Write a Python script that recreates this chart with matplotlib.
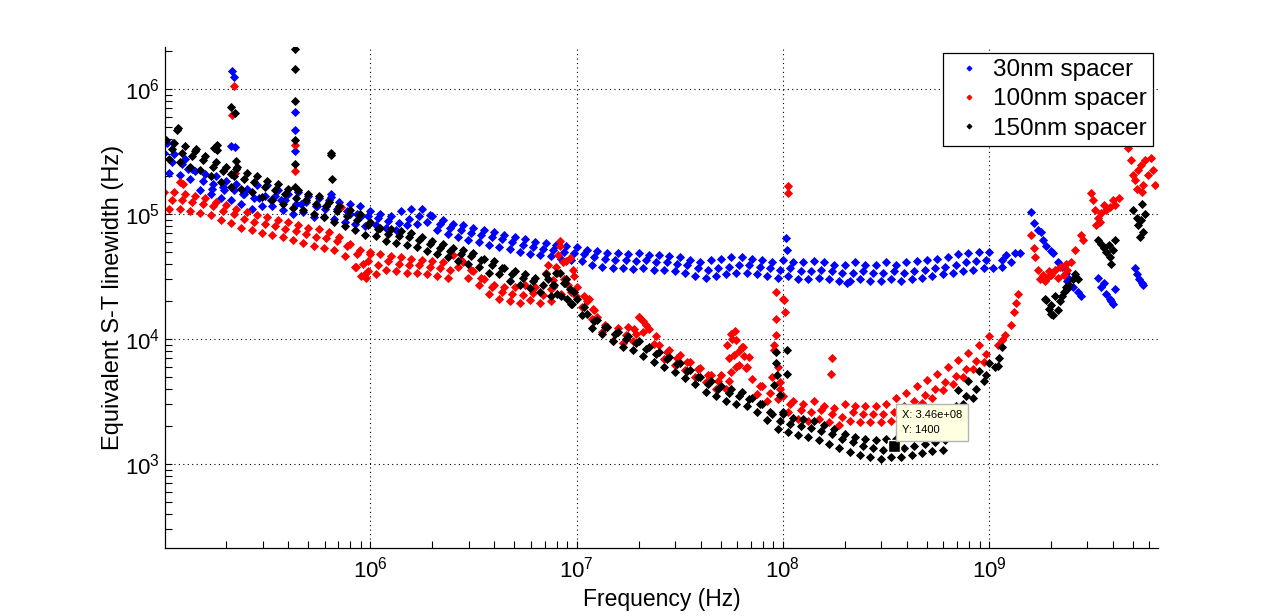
import numpy as np
import matplotlib
matplotlib.use("Agg")
import matplotlib.pyplot as plt
from matplotlib.ticker import LogLocator, FuncFormatter, NullFormatter

plt.rcParams['font.family'] = ['Liberation Sans', 'DejaVu Sans']
plt.rcParams['mathtext.default'] = 'regular'

# frequency sampling (Hz) for the upper / lower / middle of each band
freq_a = [1.00e5, 1.12e5, 1.26e5, 1.41e5, 1.58e5, 1.78e5, 2.00e5, 2.24e5, 2.51e5, 2.82e5,
          3.16e5, 3.55e5, 3.98e5, 4.47e5, 5.01e5, 5.62e5, 6.31e5, 7.08e5, 7.94e5, 8.91e5,
          1.00e6, 1.12e6, 1.26e6, 1.41e6, 1.58e6, 1.78e6, 2.00e6, 2.24e6, 2.51e6, 2.82e6,
          3.16e6, 3.55e6, 3.98e6, 4.47e6, 5.01e6, 5.62e6, 6.31e6, 7.08e6, 7.94e6, 8.91e6,
          1.00e7, 1.12e7, 1.26e7, 1.41e7, 1.58e7, 1.78e7, 2.00e7, 2.24e7, 2.51e7, 2.82e7,
          3.16e7, 3.55e7, 3.98e7, 4.47e7, 5.01e7, 5.62e7, 6.31e7, 7.08e7, 7.94e7, 8.91e7,
          1.00e8, 1.12e8, 1.26e8, 1.41e8, 1.58e8, 1.78e8, 2.00e8, 2.24e8, 2.51e8, 2.82e8,
          3.16e8, 3.55e8, 3.98e8, 4.47e8, 5.01e8, 5.62e8, 6.31e8, 7.08e8, 7.94e8, 8.91e8,
          1.00e9]
freq_b = [1.06e5, 1.19e5, 1.33e5, 1.50e5, 1.68e5, 1.88e5, 2.11e5, 2.37e5, 2.66e5, 2.99e5,
          3.35e5, 3.76e5, 4.22e5, 4.73e5, 5.31e5, 5.96e5, 6.68e5, 7.50e5, 8.41e5, 9.44e5,
          1.06e6, 1.19e6, 1.33e6, 1.50e6, 1.68e6, 1.88e6, 2.11e6, 2.37e6, 2.66e6, 2.99e6,
          3.35e6, 3.76e6, 4.22e6, 4.73e6, 5.31e6, 5.96e6, 6.68e6, 7.50e6, 8.41e6, 9.44e6,
          1.06e7, 1.19e7, 1.33e7, 1.50e7, 1.68e7, 1.88e7, 2.11e7, 2.37e7, 2.66e7, 2.99e7,
          3.35e7, 3.76e7, 4.22e7, 4.73e7, 5.31e7, 5.96e7, 6.68e7, 7.50e7, 8.41e7, 9.44e7,
          1.06e8, 1.19e8, 1.33e8, 1.50e8, 1.68e8, 1.88e8, 2.11e8, 2.37e8, 2.66e8, 2.99e8,
          3.35e8, 3.76e8, 4.22e8, 4.73e8, 5.31e8, 5.96e8, 6.68e8, 7.50e8, 8.41e8, 9.44e8]
freq_c = [1.09e5, 1.22e5, 1.37e5, 1.54e5, 1.73e5, 1.94e5, 2.18e5, 2.44e5, 2.74e5, 3.07e5,
          3.45e5, 3.87e5, 4.34e5, 4.87e5, 5.47e5, 6.13e5, 6.88e5, 7.72e5, 8.66e5, 9.72e5,
          1.09e6, 1.22e6, 1.37e6, 1.54e6, 1.73e6, 1.94e6, 2.18e6, 2.44e6, 2.74e6, 3.07e6,
          3.45e6, 3.87e6, 4.34e6, 4.87e6, 5.47e6, 6.13e6, 6.88e6, 7.72e6, 8.66e6, 9.72e6,
          1.09e7, 1.22e7, 1.37e7, 1.54e7, 1.73e7, 1.94e7, 2.18e7, 2.44e7, 2.74e7, 3.07e7,
          3.45e7, 3.87e7, 4.34e7, 4.87e7, 5.47e7, 6.13e7, 6.88e7, 7.72e7, 8.66e7, 9.72e7,
          1.09e8, 1.22e8, 1.37e8, 1.54e8, 1.73e8, 1.94e8, 2.18e8, 2.44e8, 2.74e8, 3.07e8,
          3.45e8, 3.87e8, 4.34e8, 4.87e8, 5.47e8, 6.13e8, 6.88e8, 7.72e8, 8.66e8, 9.72e8]

# ---- 30nm spacer (blue) ----
lw30_hi = [3.1e5, 3.0e5, 2.75e5, 2.2e5, 2.1e5, 2.0e5, 1.85e5, 1.75e5, 1.6e5, 1.7e5,
           1.7e5, 1.55e5, 1.45e5, 1.5e5, 1.4e5, 1.35e5, 1.3e5, 1.25e5, 1.2e5, 1.15e5,
           1.06e5, 1.0e5, 9.7e4, 1.05e5, 1.09e5, 1.1e5, 9.6e4, 8.9e4, 8.4e4, 8.1e4,
           7.8e4, 7.4e4, 7.2e4, 6.8e4, 6.5e4, 6.3e4, 6.0e4, 5.9e4, 5.7e4, 5.6e4,
           5.5e4, 5.2e4, 5.1e4, 4.9e4, 4.9e4, 4.8e4, 4.9e4, 4.7e4, 4.7e4, 4.6e4,
           4.5e4, 4.3e4, 4.1e4, 4.3e4, 4.4e4, 4.5e4, 4.5e4, 4.4e4, 4.3e4, 4.1e4,
           4.3e4, 4.1e4, 4.1e4, 4.2e4, 4.1e4, 3.9e4, 3.9e4, 4.1e4, 3.9e4, 3.9e4,
           4.1e4, 3.9e4, 4.1e4, 4.2e4, 4.3e4, 4.4e4, 4.5e4, 4.8e4, 4.9e4, 5.0e4,
           5.0e4]
lw30_lo = [2.15e5, 2.05e5, 1.9e5, 1.55e5, 1.45e5, 1.35e5, 1.3e5, 1.2e5, 1.1e5, 1.15e5,
           1.15e5, 1.08e5, 1.0e5, 1.03e5, 9.5e4, 9.5e4, 9.1e4, 8.7e4, 8.3e4, 8.0e4,
           8.2e4, 7.7e4, 7.5e4, 8.1e4, 8.4e4, 8.6e4, 7.4e4, 6.9e4, 6.5e4, 6.2e4,
           6.0e4, 5.7e4, 5.5e4, 5.3e4, 5.0e4, 4.8e4, 4.7e4, 4.6e4, 4.4e4, 4.3e4,
           4.2e4, 3.9e4, 3.8e4, 3.7e4, 3.7e4, 3.65e4, 3.7e4, 3.6e4, 3.6e4, 3.5e4,
           3.4e4, 3.2e4, 3.1e4, 3.2e4, 3.3e4, 3.4e4, 3.4e4, 3.3e4, 3.2e4, 3.1e4,
           3.2e4, 3.0e4, 3.0e4, 3.1e4, 3.0e4, 2.9e4, 2.9e4, 3.0e4, 2.9e4, 2.9e4,
           3.0e4, 2.9e4, 3.0e4, 3.1e4, 3.2e4, 3.3e4, 3.4e4, 3.5e4, 3.6e4, 3.7e4]
lw30_mid = [2.6e5, 2.5e5, 2.3e5, 1.85e5, 1.75e5, 1.65e5, 1.55e5, 1.45e5, 1.35e5, 1.4e5,
            1.4e5, 1.3e5, 1.2e5, 1.25e5, 1.15e5, 1.15e5, 1.1e5, 1.05e5, 1.0e5, 9.7e4,
            9.3e4, 8.8e4, 8.5e4, 9.2e4, 9.6e4, 9.8e4, 8.4e4, 7.8e4, 7.4e4, 7.1e4,
            6.8e4, 6.5e4, 6.3e4, 6.0e4, 5.7e4, 5.5e4, 5.3e4, 5.2e4, 5.0e4, 4.9e4,
            4.8e4, 4.5e4, 4.4e4, 4.3e4, 4.3e4, 4.2e4, 4.3e4, 4.1e4, 4.1e4, 4.0e4,
            3.9e4, 3.7e4, 3.6e4, 3.7e4, 3.8e4, 3.9e4, 3.9e4, 3.8e4, 3.7e4, 3.6e4,
            3.7e4, 3.5e4, 3.5e4, 3.6e4, 3.5e4, 3.4e4, 3.4e4, 3.5e4, 3.4e4, 3.4e4,
            3.5e4, 3.4e4, 3.5e4, 3.6e4, 3.7e4, 3.8e4, 3.9e4, 4.1e4, 4.2e4, 4.3e4]
f30_extra = [1.03e5, 1.11e5, 1.30e5, 1.70e5, 1.95e5, 2.40e5, 2.90e5, 3.30e5, 3.70e5, 4.60e5,
             5.50e5, 6.00e5, 8.00e5, 9.00e5,
             2.14e5, 2.19e5, 2.12e5, 2.20e5, 4.33e5, 4.33e5, 4.33e5, 6.47e5, 6.47e5,
             1.04e8, 1.05e8, 2.05e8,
             1.04e9, 1.15e9, 1.21e9, 1.28e9, 1.34e9, 1.42e9, 1.15e9, 1.60e9, 1.66e9, 1.72e9,
             1.79e9, 1.82e9, 1.90e9, 2.00e9, 2.04e9, 2.16e9, 2.25e9, 2.35e9, 2.45e9, 2.55e9,
             2.70e9, 2.78e9, 2.40e9, 3.38e9, 3.50e9, 3.60e9, 3.70e9, 3.85e9, 4.00e9, 4.08e9,
             3.90e9, 5.10e9, 5.20e9, 5.35e9, 5.50e9, 5.60e9]
lw30_extra = [3.7e5, 3.7e5, 2.3e5, 1.6e5, 1.55e5, 1.45e5, 1.35e5, 1.3e5, 1.3e5, 1.2e5,
              1.15e5, 1.1e5, 1.0e5, 9.6e4,
              1.39e6, 1.25e6, 3.5e5, 3.45e5, 6.5e5, 4.7e5, 3.2e5, 1.45e5, 1.37e5,
              6.4e4, 5.15e4, 2.8e4,
              3.7e4, 3.76e4, 4.7e4, 4.1e4, 4.9e4, 4.9e4, 4.3e4, 1.04e5, 8.5e4, 7.4e4,
              7.2e4, 6.2e4, 5.6e4, 5.1e4, 4.9e4, 4.1e4, 3.8e4, 3.4e4, 3.0e4, 2.6e4,
              2.4e4, 2.2e4, 2.9e4, 3.1e4, 2.6e4, 2.8e4, 2.3e4, 2.1e4, 1.9e4, 2.5e4,
              2.0e4, 3.7e4, 3.3e4, 3.0e4, 2.8e4, 2.7e4]

# ---- 100nm spacer (red) ----
lw100_hi = [1.5e5, 1.5e5, 1.45e5, 1.4e5, 1.35e5, 1.25e5, 1.18e5, 1.1e5, 1.03e5, 9.8e4,
            9.5e4, 9.0e4, 8.6e4, 8.2e4, 7.8e4, 7.6e4, 7.2e4, 6.6e4, 5.8e4, 5.2e4,
            4.8e4, 4.8e4, 4.6e4, 4.5e4, 4.4e4, 4.3e4, 4.2e4, 4.1e4, 4.7e4, 4.1e4,
            3.5e4, 3.0e4, 2.7e4, 2.6e4, 2.6e4, 2.7e4, 2.6e4, 3.4e4, 3.8e4, 4.2e4,
            2.6e4, 2.0e4, 1.5e4, 1.25e4, 1.22e4, 1.25e4, 1.5e4, 1.2e4, 9.0e3, 8.1e3,
            7.4e3, 6.6e3, 5.9e3, 5.2e3, 5.2e3, 1.1e4, 8.6e3, 4.8e3, 4.2e3, 5.0e3,
            3.5e3, 3.2e3, 3.0e3, 3.2e3, 2.9e3, 2.8e3, 3.0e3, 2.9e3, 2.9e3, 2.9e3,
            3.0e3, 3.4e3, 3.7e3, 4.2e3, 4.7e3, 5.3e3, 6.0e3, 6.8e3, 7.8e3, 8.9e3,
            1.05e4]
lw100_lo = [1.1e5, 1.1e5, 1.06e5, 1.02e5, 9.8e4, 8.9e4, 8.5e4, 7.8e4, 7.4e4, 7.0e4,
            6.8e4, 6.5e4, 6.2e4, 5.9e4, 5.6e4, 5.4e4, 5.2e4, 4.6e4, 3.8e4, 3.3e4,
            3.3e4, 3.6e4, 3.5e4, 3.4e4, 3.4e4, 3.3e4, 3.2e4, 3.1e4, 3.8e4, 3.1e4,
            2.7e4, 2.3e4, 2.1e4, 2.0e4, 1.95e4, 2.05e4, 1.95e4, 2.0e4, 2.3e4, 2.4e4,
            1.8e4, 1.45e4, 1.13e4, 9.6e3, 9.3e3, 9.6e3, 1.13e4, 9.1e3, 6.9e3, 6.2e3,
            5.7e3, 5.0e3, 4.5e3, 4.0e3, 4.0e3, 6.0e3, 6.0e3, 3.65e3, 3.2e3, 3.3e3,
            2.6e3, 2.3e3, 2.2e3, 2.3e3, 2.15e3, 2.05e3, 2.2e3, 2.15e3, 2.15e3, 2.15e3,
            2.2e3, 2.5e3, 2.75e3, 3.1e3, 3.4e3, 3.9e3, 4.4e3, 5.0e3, 5.8e3, 6.5e3]
lw100_mid = [1.3e5, 1.3e5, 1.25e5, 1.2e5, 1.15e5, 1.05e5, 1.0e5, 9.2e4, 8.7e4, 8.3e4,
             8.0e4, 7.6e4, 7.3e4, 6.9e4, 6.6e4, 6.4e4, 6.1e4, 5.6e4, 4.8e4, 4.2e4,
             3.9e4, 4.2e4, 4.0e4, 3.9e4, 3.9e4, 3.8e4, 3.7e4, 3.6e4, 4.3e4, 3.6e4,
             3.1e4, 2.6e4, 2.4e4, 2.3e4, 2.25e4, 2.35e4, 2.25e4, 2.6e4, 3.0e4, 3.2e4,
             2.2e4, 1.7e4, 1.3e4, 1.1e4, 1.07e4, 1.1e4, 1.3e4, 1.05e4, 7.9e3, 7.1e3,
             6.5e3, 5.8e3, 5.2e3, 4.6e3, 4.6e3, 8.0e3, 7.2e3, 4.2e3, 3.7e3, 4.0e3,
             3.0e3, 2.7e3, 2.6e3, 2.7e3, 2.5e3, 2.4e3, 2.6e3, 2.5e3, 2.5e3, 2.5e3,
             2.6e3, 2.9e3, 3.2e3, 3.6e3, 4.0e3, 4.5e3, 5.1e3, 5.8e3, 6.7e3, 7.6e3]
f100_extra = [1.19e5, 1.23e5, 2.20e5,
              2.19e5, 2.14e5, 4.33e5, 4.33e5, 7.20e5,
              8.5e5, 9.0e5, 9.2e5, 9.5e5, 9.7e5, 1.0e6,
              8.34e6, 8.34e6, 8.1e6, 8.6e6, 9.3e6, 9.6e6, 7.7e6, 7.3e6, 8.9e6, 9.1e6,
              7.5e6, 9.9e6, 8.0e6,
              2.0e7, 2.1e7, 1.9e7, 1.2e7, 1.15e7,
              5.38e7, 5.7e7, 5.86e7, 5.9e7, 5.8e7, 6.1e7, 6.4e7, 6.5e7, 6.6e7, 5.5e7, 5.6e7,
              9.3e7, 9.3e7, 9.3e7, 1.0e8, 1.01e8, 1.03e8, 1.06e8, 1.06e8, 9.1e7, 9.1e7,
              9.5e7, 9.7e7, 1.74e8, 1.72e8,
              1.11e9, 1.16e9, 1.20e9, 1.28e9, 1.32e9, 1.35e9, 1.38e9, 1.60e9, 1.65e9, 1.68e9,
              1.72e9, 1.82e9, 1.91e9, 2.00e9, 2.16e9, 2.30e9, 2.40e9, 2.50e9, 2.60e9, 2.80e9,
              2.85e9, 1.76e9, 1.86e9, 1.95e9, 2.10e9, 2.20e9, 2.35e9,
              3.13e9, 3.20e9, 3.28e9, 3.50e9, 3.60e9, 3.70e9, 3.85e9, 3.98e9, 4.10e9, 4.25e9,
              3.38e9, 3.30e9, 3.45e9,
              4.72e9, 4.90e9, 5.00e9, 5.10e9, 5.30e9, 5.45e9, 5.60e9, 5.70e9, 5.90e9, 6.10e9,
              6.25e9, 6.40e9, 5.20e9, 5.50e9]
lw100_extra = [1.8e5, 1.75e5, 2.13e5,
               1.06e6, 6.2e5, 3.56e5, 2.2e5, 1.14e5,
               3.8e4, 3.2e4, 4.0e4, 3.1e4, 3.5e4, 5.0e4,
               6.1e4, 5.6e4, 4.7e4, 4.1e4, 4.45e4, 3.56e4, 2.96e4, 3.9e4, 3.0e4, 2.7e4,
               2.5e4, 2.2e4, 3.4e4,
               1.5e4, 1.4e4, 1.2e4, 1.75e4, 2.1e4,
               8.9e3, 1.0e4, 1.15e4, 9.8e3, 7.4e3, 6.2e3, 8.6e3, 7.3e3, 5.9e3, 7.0e3, 5.5e3,
               2.4e4, 1.45e4, 1.07e4, 2.1e4, 2.05e4, 1.65e4, 1.68e5, 1.47e5, 8.9e3, 8.2e3,
               6.0e3, 4.5e3, 7.1e3, 5.3e3,
               8.9e3, 9.8e3, 1.08e4, 1.29e4, 1.65e4, 1.95e4, 2.3e4, 6.8e4, 5.4e4, 4.5e4,
               3.56e4, 3.25e4, 3.1e4, 3.25e4, 3.1e4, 3.25e4, 3.56e4, 4.1e4, 5.15e4, 6.8e4,
               6.2e4, 3.0e4, 2.9e4, 3.5e4, 3.6e4, 3.8e4, 4.0e4,
               1.47e5, 1.29e5, 1.08e5, 1.02e5, 1.18e5, 1.08e5, 1.13e5, 1.29e5, 1.18e5, 1.34e5,
               9.3e4, 8.2e4, 8.6e4,
               3.4e5, 2.7e5, 2.05e5, 1.87e5, 2.25e5, 2.47e5, 1.71e5, 2.7e5, 2.05e5, 2.8e5,
               2.25e5, 1.71e5, 1.6e5, 1.5e5]

# ---- 150nm spacer (black) ----
lw150_hi = [3.9e5, 3.7e5, 3.5e5, 3.2e5, 2.9e5, 2.6e5, 2.4e5, 2.3e5, 2.15e5, 2.0e5,
            1.85e5, 1.75e5, 1.6e5, 1.55e5, 1.45e5, 1.4e5, 1.25e5, 1.15e5, 1.08e5, 1.0e5,
            8.6e4, 7.8e4, 7.6e4, 7.3e4, 7.0e4, 6.6e4, 6.1e4, 5.8e4, 5.4e4, 5.2e4,
            4.9e4, 4.4e4, 4.2e4, 3.7e4, 3.5e4, 3.3e4, 3.1e4, 3.3e4, 3.4e4, 3.0e4,
            2.1e4, 1.6e4, 1.42e4, 1.25e4, 1.14e4, 1.06e4, 9.6e3, 8.7e3, 7.9e3, 7.2e3,
            6.4e3, 5.7e3, 5.0e3, 4.6e3, 4.2e3, 4.0e3, 3.8e3, 3.4e3, 3.0e3, 2.5e3,
            2.5e3, 2.35e3, 2.3e3, 2.2e3, 2.05e3, 1.9e3, 1.75e3, 1.65e3, 1.6e3, 1.55e3,
            1.6e3, 1.6e3, 1.65e3, 1.7e3, 1.75e3, 1.8e3, 1.9e3, 3.9e3, 4.6e3, 5.6e3,
            6.4e3]
lw150_lo = [2.75e5, 2.6e5, 2.4e5, 2.25e5, 2.0e5, 1.8e5, 1.65e5, 1.6e5, 1.5e5, 1.37e5,
            1.3e5, 1.2e5, 1.12e5, 1.08e5, 1.0e5, 9.5e4, 8.7e4, 8.0e4, 7.5e4, 6.8e4,
            6.7e4, 6.1e4, 5.9e4, 5.7e4, 5.5e4, 5.1e4, 4.8e4, 4.5e4, 4.2e4, 4.0e4,
            3.8e4, 3.4e4, 3.3e4, 2.9e4, 2.7e4, 2.55e4, 2.4e4, 2.2e4, 2.2e4, 1.9e4,
            1.55e4, 1.22e4, 1.09e4, 9.6e3, 8.7e3, 8.1e3, 7.3e3, 6.6e3, 6.0e3, 5.5e3,
            4.9e3, 4.35e3, 3.8e3, 3.5e3, 3.2e3, 3.05e3, 2.9e3, 2.6e3, 2.25e3, 1.9e3,
            1.8e3, 1.7e3, 1.65e3, 1.55e3, 1.45e3, 1.35e3, 1.25e3, 1.18e3, 1.13e3, 1.1e3,
            1.13e3, 1.13e3, 1.18e3, 1.22e3, 1.27e3, 1.3e3, 2.5e3, 3.0e3, 3.4e3, 4.6e3]
lw150_mid = [3.3e5, 3.1e5, 2.9e5, 2.7e5, 2.4e5, 2.2e5, 2.0e5, 1.9e5, 1.8e5, 1.65e5,
             1.55e5, 1.45e5, 1.35e5, 1.3e5, 1.2e5, 1.15e5, 1.05e5, 9.7e4, 9.0e4, 8.2e4,
             7.6e4, 6.9e4, 6.7e4, 6.5e4, 6.2e4, 5.8e4, 5.4e4, 5.1e4, 4.8e4, 4.6e4,
             4.3e4, 3.9e4, 3.7e4, 3.3e4, 3.1e4, 2.9e4, 2.7e4, 2.7e4, 2.8e4, 2.4e4,
             1.8e4, 1.4e4, 1.25e4, 1.1e4, 1.0e4, 9.3e3, 8.4e3, 7.6e3, 6.9e3, 6.3e3,
             5.6e3, 5.0e3, 4.4e3, 4.0e3, 3.7e3, 3.5e3, 3.3e3, 3.0e3, 2.6e3, 2.2e3,
             2.1e3, 2.0e3, 1.95e3, 1.85e3, 1.75e3, 1.6e3, 1.5e3, 1.4e3, 1.35e3, 1.3e3,
             1.35e3, 1.35e3, 1.4e3, 1.45e3, 1.5e3, 1.55e3, 2.9e3, 3.5e3, 4.0e3, 5.2e3]
f150_extra = [4.33e5, 4.33e5, 4.33e5, 4.33e5, 4.33e5, 4.33e5, 2.12e5, 2.20e5, 2.22e5, 2.26e5,
              2.12e5, 6.47e5, 6.47e5, 6.50e5, 1.80e5, 1.80e5, 1.15e5, 1.17e5,
              1.02e5, 1.42e5, 1.75e5,
              8.34e6, 7.3e6, 8.8e6, 9.3e6, 7.8e6, 9.0e6, 8.0e6, 9.5e6,
              9.3e7, 9.3e7, 9.4e7, 1.05e8, 1.05e8, 9.1e7, 9.7e7, 1.0e8,
              1.07e9, 1.11e9, 1.12e9, 1.16e9, 1.87e9, 1.90e9, 2.00e9, 2.10e9, 2.16e9, 2.00e9,
              2.05e9, 2.20e9, 2.25e9, 2.30e9, 2.40e9, 2.45e9, 2.55e9, 2.60e9, 2.70e9, 2.35e9,
              1.95e9,
              3.38e9, 3.60e9, 3.70e9, 3.80e9, 3.85e9, 3.98e9, 4.08e9, 3.50e9, 3.90e9,
              5.00e9, 5.20e9, 5.30e9, 5.45e9, 5.60e9, 5.40e9, 5.70e9, 5.50e9]
lw150_extra = [2.1e6, 1.45e6, 8.0e5, 3.9e5, 2.5e5, 1.64e5, 7.2e5, 6.4e5, 2.65e5, 2.37e5,
               2.1e5, 3.1e5, 2.96e5, 1.9e5, 3.56e5, 3.25e5, 4.7e5, 4.9e5,
               3.9e5, 3.3e5, 3.4e5,
               3.4e4, 3.0e4, 2.8e4, 2.5e4, 2.7e4, 2.1e4, 2.3e4, 1.9e4,
               7.9e3, 6.4e3, 5.2e3, 8.2e3, 5.3e3, 4.3e3, 3.6e3, 2.6e3,
               6.0e3, 6.1e3, 7.1e3, 8.7e3, 2.1e4, 2.05e4, 1.87e4, 2.2e4, 1.71e4, 1.6e4,
               1.55e4, 2.0e4, 2.2e4, 2.4e4, 2.5e4, 2.7e4, 3.0e4, 3.3e4, 3.0e4, 2.6e4,
               1.75e4,
               6.2e4, 5.4e4, 5.0e4, 5.65e4, 4.5e4, 5.15e4, 6.2e4, 5.8e4, 4.0e4,
               1.08e5, 9.3e4, 8.2e4, 8.9e4, 7.2e4, 6.6e4, 1.0e5, 1.2e5]

# data cursor
tip_freq = 3.46e8
tip_lw = 1400

series = [
    ('30nm spacer', '#0000ff', lw30_hi, lw30_lo, lw30_mid, f30_extra, lw30_extra),
    ('100nm spacer', '#ff0000', lw100_hi, lw100_lo, lw100_mid, f100_extra, lw100_extra),
    ('150nm spacer', '#000000', lw150_hi, lw150_lo, lw150_mid, f150_extra, lw150_extra),
]

fig = plt.figure(figsize=(12.8, 6.16), dpi=100)
ax = fig.add_axes([165/1280, 68/616, 993/1280, 501/616])

for label, color, hi, lo, mid, fx, yx in series:
    f = np.concatenate([freq_a, freq_b, freq_c, fx])
    y = np.concatenate([hi, lo, mid, yx])
    ax.plot(f, y, linestyle='none', marker='D', markersize=4.0,
            markeredgewidth=0.6, markeredgecolor=color, color=color, label=label)

ax.set_xscale('log')
ax.set_yscale('log')
ax.set_xlim(1.01e5, 6.6e9)
ax.set_ylim(2.13e2, 2.17e6)

fmt = FuncFormatter(lambda v, p: r'$\mathregular{10^{%d}}$' % round(np.log10(v)))
for axis in (ax.xaxis, ax.yaxis):
    axis.set_major_locator(LogLocator(base=10))
    axis.set_minor_locator(LogLocator(base=10, subs=np.arange(2, 10)))
    axis.set_major_formatter(fmt)
    axis.set_minor_formatter(NullFormatter())

ax.tick_params(which='both', direction='in', length=5, width=0.8,
               top=False, right=False, labelsize=16)
ax.tick_params(axis='x', pad=6)
ax.spines['top'].set_visible(False)
ax.spines['right'].set_visible(False)
for s in ('left', 'bottom'):
    ax.spines[s].set_linewidth(0.9)

ax.grid(True, which='major', color='black', linestyle=(0, (1, 3)), linewidth=0.8)
ax.set_axisbelow(True)

ax.set_xlabel('Frequency (Hz)', fontsize=16.5, labelpad=4)
ax.set_ylabel('Equivalent S-T linewidth (Hz)', fontsize=17, labelpad=1)

leg = ax.legend(loc='upper right', bbox_to_anchor=(0.995, 0.988),
                fontsize=17.5, frameon=True, fancybox=False, framealpha=1,
                edgecolor='black', handlelength=1.6, handletextpad=0.2,
                borderpad=0.25, labelspacing=0.3, markerscale=0.65,
                borderaxespad=0)
leg.get_frame().set_linewidth(0.9)

# datatip
ax.plot([tip_freq], [tip_lw], marker='s', markersize=8, color='black',
        markeredgecolor='#ffffe1', markeredgewidth=1.0, linestyle='none', zorder=5)
ax.annotate('X: 3.46e+08\nY: 1400', xy=(tip_freq, tip_lw), xytext=(8, 11),
            textcoords='offset pixels', ha='left', va='bottom', fontsize=8,
            linespacing=1.6,
            bbox=dict(boxstyle='square,pad=0.55', facecolor='#ffffe1',
                      edgecolor='#b4b4b4', linewidth=1.0), zorder=6)

fig.savefig('out.png', dpi=100)
